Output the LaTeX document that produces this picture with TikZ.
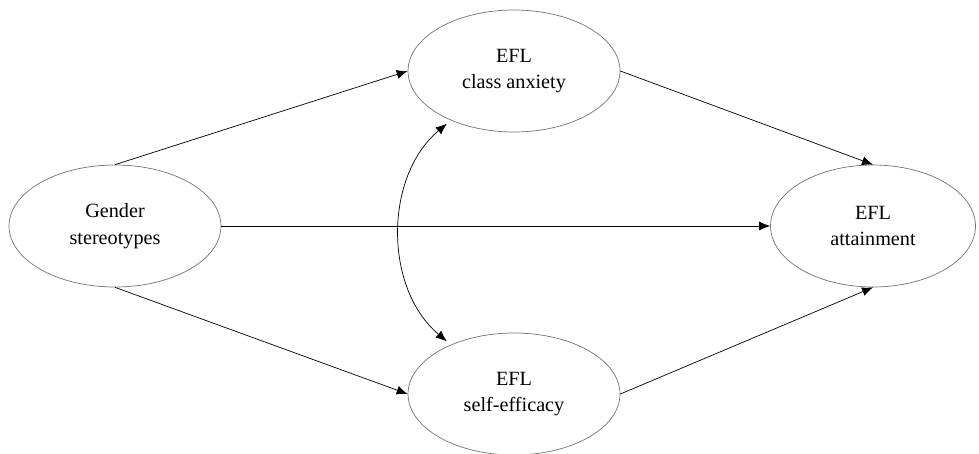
\documentclass[tikz,border=0pt]{standalone}
\usepackage{fontspec}
\setmainfont{Liberation Serif}
\usetikzlibrary{arrows.meta}
\usetikzlibrary{shapes.geometric}

\tikzset{
  latent/.style={ellipse, draw=black!55, thin, minimum width=4.24cm,
    minimum height=2.44cm, inner sep=0pt, align=center,
    font=\fontsize{11.5}{15}\selectfont},
  path/.style={thin, -{Latex[length=2.2mm,width=1.8mm]}},
}

\begin{document}
\begin{tikzpicture}[x=0.02cm, y=-0.02cm]
  \useasboundingbox (0, 0) rectangle (979, 453);
  \pgfmathsetmacro{\xl}{115}
  \pgfmathsetmacro{\xm}{514}
  \pgfmathsetmacro{\xr}{873}
  \pgfmathsetmacro{\ym}{226}

  \node[latent] (gender) at (\xl, \ym) {Gender\\stereotypes};
  \node[latent] (anxiety) at (\xm, 71) {EFL\\class anxiety};
  \node[latent] (efficacy) at (\xm, 394) {EFL\\self-efficacy};
  \node[latent, minimum width=4.1cm] (attain) at (\xr, \ym) {EFL\\attainment};

  \draw[path] (gender.north) -- (anxiety.west);
  \draw[path] (gender.south) -- (efficacy.west);
  \draw[path] (gender.east) -- (attain.west);
  \draw[path] (anxiety.east) -- (attain.north);
  \draw[path] (efficacy.east) -- (attain.south);

  \draw[thin, {Latex[length=2.2mm,width=1.8mm]}-{Latex[length=2.2mm,width=1.8mm]},
    shorten <=3pt, shorten >=3pt]
  (anxiety.218) to[bend right=50] (efficacy.142);
\end{tikzpicture}
\end{document}
